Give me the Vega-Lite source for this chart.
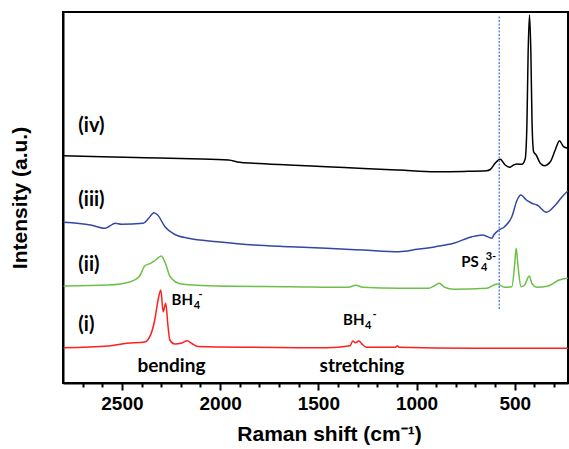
{
  "$schema": "https://vega.github.io/schema/vega-lite/v6.json",
  "width": 505,
  "height": 371,
  "autosize": "none",
  "padding": {"left": 63, "top": 12, "right": 1, "bottom": 66},
  "background": "white",
  "config": {
    "view": {"stroke": "#000000", "strokeWidth": 2},
    "axis": {"grid": false}
  },
  "resolve": {"axis": {"x": "independent"}},
  "datasets": {
    "spectra": [
      {"series": "iv", "shift": 2797, "intensity": 227.3},
      {"series": "iv", "shift": 2600, "intensity": 226.3},
      {"series": "iv", "shift": 2384, "intensity": 225.3},
      {"series": "iv", "shift": 2150, "intensity": 224.2},
      {"series": "iv", "shift": 1957, "intensity": 223},
      {"series": "iv", "shift": 1902, "intensity": 220.7},
      {"series": "iv", "shift": 1828, "intensity": 219.7},
      {"series": "iv", "shift": 1650, "intensity": 218},
      {"series": "iv", "shift": 1458, "intensity": 216.3},
      {"series": "iv", "shift": 1270, "intensity": 214.6},
      {"series": "iv", "shift": 1089, "intensity": 213},
      {"series": "iv", "shift": 903, "intensity": 211.3},
      {"series": "iv", "shift": 760, "intensity": 211.6},
      {"series": "iv", "shift": 644, "intensity": 212.3},
      {"series": "iv", "shift": 625, "intensity": 213.5},
      {"series": "iv", "shift": 600, "intensity": 219.7},
      {"series": "iv", "shift": 574, "intensity": 223.7},
      {"series": "iv", "shift": 549, "intensity": 218},
      {"series": "iv", "shift": 527, "intensity": 215.7},
      {"series": "iv", "shift": 506, "intensity": 218},
      {"series": "iv", "shift": 489, "intensity": 219},
      {"series": "iv", "shift": 464, "intensity": 218.7},
      {"series": "iv", "shift": 447, "intensity": 224},
      {"series": "iv", "shift": 438, "intensity": 260},
      {"series": "iv", "shift": 432, "intensity": 330},
      {"series": "iv", "shift": 425, "intensity": 368},
      {"series": "iv", "shift": 418, "intensity": 330},
      {"series": "iv", "shift": 412, "intensity": 260},
      {"series": "iv", "shift": 404, "intensity": 231.3},
      {"series": "iv", "shift": 391, "intensity": 228},
      {"series": "iv", "shift": 370, "intensity": 219.7},
      {"series": "iv", "shift": 350, "intensity": 217.3},
      {"series": "iv", "shift": 319, "intensity": 221.3},
      {"series": "iv", "shift": 294, "intensity": 233},
      {"series": "iv", "shift": 272, "intensity": 242.3},
      {"series": "iv", "shift": 252, "intensity": 236.3},
      {"series": "iv", "shift": 230, "intensity": 234.7},

      {"series": "iii", "shift": 2797, "intensity": 160.7},
      {"series": "iii", "shift": 2660, "intensity": 158},
      {"series": "iii", "shift": 2586, "intensity": 154.7},
      {"series": "iii", "shift": 2568, "intensity": 156.3},
      {"series": "iii", "shift": 2534, "intensity": 159.7},
      {"series": "iii", "shift": 2503, "intensity": 158.7},
      {"series": "iii", "shift": 2392, "intensity": 159.7},
      {"series": "iii", "shift": 2364, "intensity": 164.7},
      {"series": "iii", "shift": 2337, "intensity": 170.3},
      {"series": "iii", "shift": 2318, "intensity": 168},
      {"series": "iii", "shift": 2281, "intensity": 156.3},
      {"series": "iii", "shift": 2235, "intensity": 149},
      {"series": "iii", "shift": 2161, "intensity": 144.7},
      {"series": "iii", "shift": 2013, "intensity": 141.3},
      {"series": "iii", "shift": 1828, "intensity": 138},
      {"series": "iii", "shift": 1643, "intensity": 136.3},
      {"series": "iii", "shift": 1458, "intensity": 134.7},
      {"series": "iii", "shift": 1273, "intensity": 133},
      {"series": "iii", "shift": 1089, "intensity": 131.3},
      {"series": "iii", "shift": 996, "intensity": 133.7},
      {"series": "iii", "shift": 903, "intensity": 136.3},
      {"series": "iii", "shift": 811, "intensity": 139.7},
      {"series": "iii", "shift": 718, "intensity": 146.3},
      {"series": "iii", "shift": 663, "intensity": 148},
      {"series": "iii", "shift": 616, "intensity": 144.7},
      {"series": "iii", "shift": 607, "intensity": 148},
      {"series": "iii", "shift": 580, "intensity": 153},
      {"series": "iii", "shift": 552, "intensity": 156.3},
      {"series": "iii", "shift": 515, "intensity": 166.3},
      {"series": "iii", "shift": 488, "intensity": 183},
      {"series": "iii", "shift": 469, "intensity": 188},
      {"series": "iii", "shift": 441, "intensity": 183},
      {"series": "iii", "shift": 425, "intensity": 181},
      {"series": "iii", "shift": 413, "intensity": 179.7},
      {"series": "iii", "shift": 386, "intensity": 178},
      {"series": "iii", "shift": 339, "intensity": 170.7},
      {"series": "iii", "shift": 293, "intensity": 178},
      {"series": "iii", "shift": 260, "intensity": 186},
      {"series": "iii", "shift": 230, "intensity": 192},

      {"series": "ii", "shift": 2797, "intensity": 97},
      {"series": "ii", "shift": 2568, "intensity": 98},
      {"series": "ii", "shift": 2457, "intensity": 101.3},
      {"series": "ii", "shift": 2410, "intensity": 107},
      {"series": "ii", "shift": 2384, "intensity": 117},
      {"series": "ii", "shift": 2355, "intensity": 119.7},
      {"series": "ii", "shift": 2328, "intensity": 123},
      {"series": "ii", "shift": 2300, "intensity": 127},
      {"series": "ii", "shift": 2282, "intensity": 121.3},
      {"series": "ii", "shift": 2254, "intensity": 106.3},
      {"series": "ii", "shift": 2198, "intensity": 99},
      {"series": "ii", "shift": 2013, "intensity": 97},
      {"series": "ii", "shift": 1643, "intensity": 96.3},
      {"series": "ii", "shift": 1347, "intensity": 95.7},
      {"series": "ii", "shift": 1310, "intensity": 97.7},
      {"series": "ii", "shift": 1273, "intensity": 95.7},
      {"series": "ii", "shift": 1089, "intensity": 94.7},
      {"series": "ii", "shift": 940, "intensity": 94.7},
      {"series": "ii", "shift": 903, "intensity": 98},
      {"series": "ii", "shift": 885, "intensity": 99.7},
      {"series": "ii", "shift": 857, "intensity": 95.7},
      {"series": "ii", "shift": 811, "intensity": 93.7},
      {"series": "ii", "shift": 644, "intensity": 94.7},
      {"series": "ii", "shift": 589, "intensity": 99},
      {"series": "ii", "shift": 552, "intensity": 95.7},
      {"series": "ii", "shift": 515, "intensity": 96.3},
      {"series": "ii", "shift": 500, "intensity": 119.7},
      {"series": "ii", "shift": 493, "intensity": 134.7},
      {"series": "ii", "shift": 483, "intensity": 116.3},
      {"series": "ii", "shift": 469, "intensity": 96.3},
      {"series": "ii", "shift": 450, "intensity": 98},
      {"series": "ii", "shift": 426, "intensity": 107},
      {"series": "ii", "shift": 413, "intensity": 99.7},
      {"series": "ii", "shift": 386, "intensity": 95.7},
      {"series": "ii", "shift": 330, "intensity": 97},
      {"series": "ii", "shift": 274, "intensity": 103},
      {"series": "ii", "shift": 230, "intensity": 104.7},

      {"series": "i", "shift": 2797, "intensity": 35.3},
      {"series": "i", "shift": 2568, "intensity": 37},
      {"series": "i", "shift": 2475, "intensity": 39.7},
      {"series": "i", "shift": 2384, "intensity": 41},
      {"series": "i", "shift": 2358, "intensity": 46.3},
      {"series": "i", "shift": 2333, "intensity": 63},
      {"series": "i", "shift": 2316, "intensity": 83},
      {"series": "i", "shift": 2302, "intensity": 93},
      {"series": "i", "shift": 2290, "intensity": 71.3},
      {"series": "i", "shift": 2277, "intensity": 79.7},
      {"series": "i", "shift": 2266, "intensity": 58},
      {"series": "i", "shift": 2256, "intensity": 43},
      {"series": "i", "shift": 2231, "intensity": 39},
      {"series": "i", "shift": 2195, "intensity": 40},
      {"series": "i", "shift": 2168, "intensity": 42.3},
      {"series": "i", "shift": 2144, "intensity": 39.5},
      {"series": "i", "shift": 2113, "intensity": 36.5},
      {"series": "i", "shift": 1828, "intensity": 35.7},
      {"series": "i", "shift": 1458, "intensity": 35.3},
      {"series": "i", "shift": 1338, "intensity": 37.3},
      {"series": "i", "shift": 1325, "intensity": 42},
      {"series": "i", "shift": 1310, "intensity": 40.3},
      {"series": "i", "shift": 1295, "intensity": 42},
      {"series": "i", "shift": 1273, "intensity": 38},
      {"series": "i", "shift": 1255, "intensity": 35.7},
      {"series": "i", "shift": 1107, "intensity": 35.7},
      {"series": "i", "shift": 1098, "intensity": 37.3},
      {"series": "i", "shift": 1089, "intensity": 35.7},
      {"series": "i", "shift": 718, "intensity": 34.7},
      {"series": "i", "shift": 230, "intensity": 34.7}
    ],
    "labels": [
      {"kind": "big", "text": "(iv)", "shift": 2722, "intensity": 251},
      {"kind": "big", "text": "(iii)", "shift": 2722, "intensity": 177},
      {"kind": "big", "text": "(ii)", "shift": 2722, "intensity": 112},
      {"kind": "big", "text": "(i)", "shift": 2722, "intensity": 52},
      {"kind": "main", "text": "BH", "shift": 2247, "intensity": 78},
      {"kind": "main", "text": "BH", "shift": 1374, "intensity": 58},
      {"kind": "main", "text": "PS", "shift": 773, "intensity": 116},
      {"kind": "sub", "text": "4", "shift": 2134, "intensity": 74},
      {"kind": "sub", "text": "4", "shift": 1262, "intensity": 54},
      {"kind": "sub", "text": "4", "shift": 672, "intensity": 112},
      {"kind": "sup", "text": "-", "shift": 2110, "intensity": 85},
      {"kind": "sup", "text": "-", "shift": 1224, "intensity": 65},
      {"kind": "sup", "text": "3-", "shift": 648, "intensity": 123},
      {"kind": "word", "text": "bending", "shift": 2248, "intensity": 11},
      {"kind": "word", "text": "stretching", "shift": 1278, "intensity": 11}
    ],
    "marker": [
      {"shift": 579, "low": 74, "high": 368}
    ],
    "minor": [
      {"shift": 2800}
    ]
  },
  "layer": [
    {
      "data": {"name": "spectra"},
      "mark": {"type": "line", "strokeWidth": 1.5, "clip": true, "interpolate": "monotone"},
      "encoding": {
        "x": {
          "field": "shift",
          "type": "quantitative",
          "scale": {"domain": [2800, 229], "nice": false, "zero": false},
          "axis": {
            "orient": "bottom",
            "title": "Raman shift (cm⁻¹)",
            "titleFont": "Liberation Sans",
            "titleFontWeight": "bold",
            "titleFontSize": 21,
            "titleColor": "#000000",
            "titlePadding": 10,
            "titleX": 266,
            "values": [2500, 2000, 1500, 1000, 500],
            "format": "d",
            "labelFont": "Liberation Sans",
            "labelFontWeight": "bold",
            "labelFontSize": 19,
            "labelColor": "#000000",
            "labelPadding": 4,
            "tickSize": 7,
            "tickWidth": 2,
            "tickColor": "#000000",
            "domainColor": "#000000",
            "domainWidth": 2,
            "grid": false
          }
        },
        "y": {
          "field": "intensity",
          "type": "quantitative",
          "scale": {"domain": [0, 371], "nice": false, "zero": false},
          "axis": {
            "title": "Intensity (a.u.)",
            "titleFont": "Liberation Sans",
            "titleFontWeight": "bold",
            "titleFontSize": 21,
            "titleColor": "#000000",
            "titlePadding": 33,
            "labels": false,
            "ticks": false,
            "domainColor": "#000000",
            "domainWidth": 2,
            "grid": false
          }
        },
        "color": {
          "field": "series",
          "type": "nominal",
          "scale": {"domain": ["iv", "iii", "ii", "i"], "range": ["#000000", "#3546a6", "#6cc04a", "#ff1f1f"]},
          "legend": null
        }
      }
    },
    {
      "data": {"name": "minor"},
      "mark": {"type": "point", "opacity": 0},
      "encoding": {
        "x": {
          "field": "shift",
          "type": "quantitative",
          "axis": {
            "orient": "bottom",
            "title": null,
            "labels": false,
            "domain": false,
            "values": [2700, 2600, 2400, 2300, 2200, 2100, 1900, 1800, 1700, 1600, 1400, 1300, 1200, 1100, 900, 800, 700, 600, 400, 300],
            "tickSize": 4,
            "tickWidth": 2,
            "tickColor": "#000000",
            "grid": false
          }
        }
      }
    },
    {
      "data": {"name": "marker"},
      "mark": {"type": "rule", "color": "#5f8ddc", "strokeWidth": 1.5, "strokeDash": [2, 1.5]},
      "encoding": {
        "x": {"field": "shift", "type": "quantitative", "axis": null},
        "y": {"field": "low", "type": "quantitative"},
        "y2": {"field": "high"}
      }
    },
    {
      "data": {"name": "labels"},
      "transform": [{"filter": "datum.kind === 'big'"}],
      "mark": {"type": "text", "align": "left", "baseline": "alphabetic", "font": "Lato", "fontWeight": "bold", "fontSize": 20, "color": "#000000"},
      "encoding": {
        "x": {"field": "shift", "type": "quantitative", "axis": null},
        "y": {"field": "intensity", "type": "quantitative"},
        "text": {"field": "text"}
      }
    },
    {
      "data": {"name": "labels"},
      "transform": [{"filter": "datum.kind === 'word'"}],
      "mark": {"type": "text", "align": "center", "baseline": "alphabetic", "font": "Lato", "fontWeight": "bold", "fontSize": 19, "color": "#000000"},
      "encoding": {
        "x": {"field": "shift", "type": "quantitative", "axis": null},
        "y": {"field": "intensity", "type": "quantitative"},
        "text": {"field": "text"}
      }
    },
    {
      "data": {"name": "labels"},
      "transform": [{"filter": "datum.kind === 'main'"}],
      "mark": {"type": "text", "align": "left", "baseline": "alphabetic", "font": "Lato", "fontWeight": "bold", "fontSize": 15, "color": "#000000"},
      "encoding": {
        "x": {"field": "shift", "type": "quantitative", "axis": null},
        "y": {"field": "intensity", "type": "quantitative"},
        "text": {"field": "text"}
      }
    },
    {
      "data": {"name": "labels"},
      "transform": [{"filter": "datum.kind === 'sub' || datum.kind === 'sup'"}],
      "mark": {"type": "text", "align": "left", "baseline": "alphabetic", "font": "Lato", "fontWeight": "bold", "fontSize": 11, "color": "#000000"},
      "encoding": {
        "x": {"field": "shift", "type": "quantitative", "axis": null},
        "y": {"field": "intensity", "type": "quantitative"},
        "text": {"field": "text"}
      }
    }
  ]
}
